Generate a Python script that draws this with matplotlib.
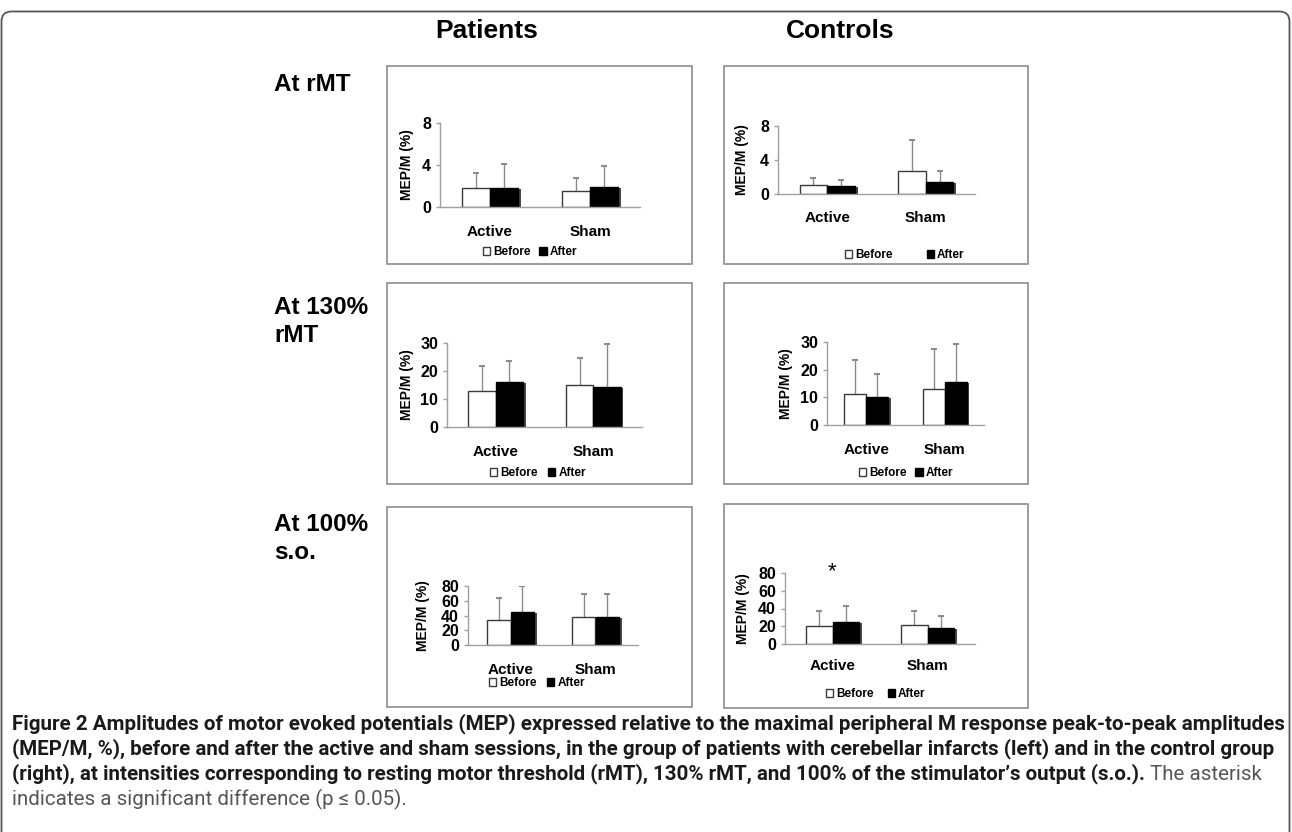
import numpy as np
import matplotlib
matplotlib.use('Agg')
import matplotlib.pyplot as plt
from matplotlib import font_manager
from matplotlib.patches import Rectangle, FancyBboxPatch

W, H = 1292, 832

sessions = ['Active', 'Sham']
series = ['Before', 'After']

# Patients, at rMT
pat_rmt_before = [1.8, 1.5]
pat_rmt_after = [1.8, 1.9]
pat_rmt_before_sd = [1.4, 1.3]
pat_rmt_after_sd = [2.3, 2.0]
# Controls, at rMT
con_rmt_before = [1.05, 2.7]
con_rmt_after = [0.95, 1.4]
con_rmt_before_sd = [0.85, 3.65]
con_rmt_after_sd = [0.65, 1.3]
# Patients, at 130% rMT
pat_130_before = [12.9, 15.0]
pat_130_after = [16.1, 14.3]
pat_130_before_sd = [8.9, 9.5]
pat_130_after_sd = [7.4, 15.5]
# Controls, at 130% rMT
con_130_before = [11.2, 13.0]
con_130_after = [10.1, 15.5]
con_130_before_sd = [12.2, 14.4]
con_130_after_sd = [8.3, 13.7]
# Patients, at 100% s.o.
pat_so_before = [34, 38]
pat_so_after = [44.6, 38]
pat_so_before_sd = [29.5, 31]
pat_so_after_sd = [35.4, 31]
# Controls, at 100% s.o.
con_so_before = [20, 21.3]
con_so_after = [24.7, 18]
con_so_before_sd = [17.5, 15.7]
con_so_after_sd = [18.3, 13.5]

col_titles = ['Patients', 'Controls']
row_titles = ['At rMT', 'At 130%\nrMT', 'At 100%\ns.o.']
ylabel = 'MEP/M (%)'
caption_bold = [
    "Figure 2 Amplitudes of motor evoked potentials (MEP) expressed relative to the maximal peripheral M response peak-to-peak amplitudes",
    "(MEP/M, %), before and after the active and sham sessions, in the group of patients with cerebellar infarcts (left) and in the control group",
    "(right), at intensities corresponding to resting motor threshold (rMT), 130% rMT, and 100% of the stimulator\u2019s output (s.o.).",
]
caption_plain = [" The asterisk", "indicates a significant difference (p \u2264 0.05)."]

FONT = 'Liberation Sans'
plt.rcParams['font.family'] = [FONT, 'DejaVu Sans']

names = {f.name for f in font_manager.fontManager.ttflist}
cap_font = 'Roboto' if 'Roboto' in names else 'DejaVu Sans'

fig = plt.figure(figsize=(W / 100, H / 100), dpi=100)

# outer frame of the page
frame = FancyBboxPatch((1.5, -40), W - 4, H - 10 + 40 - 1.5,
                       boxstyle='round,pad=0,rounding_size=10',
                       transform=None, fill=False, edgecolor='#555555', lw=1.3)
fig.patches.append(frame)

# panel boxes (x0, y0, x1, y1) in pixels from top-left
boxes = [(387, 66, 692, 264), (724, 66, 1028, 264),
         (387, 283, 692, 484), (724, 283, 1028, 484),
         (387, 507, 692, 707), (724, 504, 1028, 708)]
for x0, y0, x1, y1 in boxes:
    fig.patches.append(Rectangle((x0 / W, 1 - y1 / H), (x1 - x0) / W, (y1 - y0) / H,
                                 transform=fig.transFigure, fill=False,
                                 edgecolor='#8c8c8c', lw=1.2))

# column and row titles
fig.text(487 / W, 1 - 31 / H, col_titles[0], ha='center', va='center',
         fontsize=19, fontweight='bold')
fig.text(840 / W, 1 - 31 / H, col_titles[1], ha='center', va='center',
         fontsize=19, fontweight='bold')
row_y = [73, 296, 513]
for t, y in zip(row_titles, row_y):
    fig.text(274 / W, 1 - y / H, t, ha='left', va='top', fontsize=17.5,
             fontweight='bold', linespacing=1.3)


def panel(x0, x1, yzero, ytop, ymax, yticks, before, after, before_sd, after_sd,
          cat_y, leg_x, leg_y, leg_space, lab_dx):
    ax = fig.add_axes([x0 / W, 1 - yzero / H, (x1 - x0) / W, (yzero - ytop) / H])
    ax.patch.set_alpha(0)
    x = np.arange(len(sessions)) + 0.5
    w = 0.28
    # dark shadow behind the black bars
    ax.bar(x + w / 2 + 0.03, np.array(after) - ymax * 0.015, w, color='#4a4a4a',
           lw=0, zorder=1)
    b1 = ax.bar(x - w / 2, before, w, color='white', edgecolor='#3a3a3a', lw=1,
                zorder=2, label=series[0])
    b2 = ax.bar(x + w / 2, after, w, color='black', edgecolor='black', lw=1,
                zorder=2, label=series[1])
    for xs, m, sd in [(x - w / 2, before, before_sd), (x + w / 2, after, after_sd)]:
        _, caps, _ = ax.errorbar(xs, m, yerr=[np.zeros(len(m)), sd], fmt='none',
                                 ecolor='#8c8c8c', elinewidth=1, capsize=2,
                                 capthick=1.5, zorder=1.5)
        caps[0].set_visible(False)
    ax.set_xlim(0, len(sessions))
    ax.set_ylim(0, ymax)
    ax.set_yticks(yticks)
    ax.set_xticks([])
    for s in ['top', 'right']:
        ax.spines[s].set_visible(False)
    for s in ['left', 'bottom']:
        ax.spines[s].set_color('#a0a0a0')
        ax.spines[s].set_linewidth(1)
    ax.tick_params(axis='y', length=3, width=1, color='#a0a0a0', pad=3.5,
                   labelsize=11.5)
    for lbl in ax.get_yticklabels():
        lbl.set_fontweight('bold')
    ax.text(-lab_dx / (x1 - x0), 0.5, ylabel, transform=ax.transAxes, rotation=90,
            ha='center', va='center', fontsize=10, fontweight='bold')
    cat_pos = -(cat_y - yzero) / (yzero - ytop)
    for xi, s in zip(x, sessions):
        ax.text(xi, cat_pos, s, transform=ax.get_xaxis_transform(), ha='center',
                va='center', fontsize=11, fontweight='bold')
    fig.legend(handles=[b1, b2], labels=series, loc='center',
               bbox_to_anchor=(leg_x / W, 1 - leg_y / H), ncol=2, frameon=False,
               handlelength=0.6, handleheight=0.6, handletextpad=0.25,
               columnspacing=leg_space, borderpad=0,
               prop={'family': FONT, 'weight': 'bold', 'size': 8.5})
    return ax


panel(440, 640, 207, 123, 8, [0, 4, 8], pat_rmt_before, pat_rmt_after,
      pat_rmt_before_sd, pat_rmt_after_sd, 232, 530, 252, 0.75, 33)
panel(778, 975, 194, 126, 8, [0, 4, 8], con_rmt_before, con_rmt_after,
      con_rmt_before_sd, con_rmt_after_sd, 218, 905, 255, 2.9, 36)
panel(447, 642, 427, 343, 30, [0, 10, 20, 30], pat_130_before, pat_130_after,
      pat_130_before_sd, pat_130_after_sd, 452, 538, 473, 0.9, 40)
panel(827, 984, 425, 342, 30, [0, 10, 20, 30], con_130_before, con_130_after,
      con_130_before_sd, con_130_after_sd, 450, 906, 473, 0.75, 41)
panel(468, 638, 645, 586, 80, [0, 20, 40, 60, 80], pat_so_before, pat_so_after,
      pat_so_before_sd, pat_so_after_sd, 670, 537, 683, 0.9, 45)
ax6 = panel(785, 975, 644, 573, 80, [0, 20, 40, 60, 80], con_so_before, con_so_after,
            con_so_before_sd, con_so_after_sd, 666, 876, 694, 1.2, 42)
ax6.text(0.5, 82, '*', ha='center', va='center', fontsize=16, clip_on=False)

# caption: each line is sized to span the same width as in the source
cap_y = [724, 749, 774, 799]
cap_right = [1283, 1272, 1262]
cap_kw = dict(family=[cap_font, 'DejaVu Sans'], ha='left', va='center')
renderer = fig.canvas.get_renderer()
sizes = []
for i, line in enumerate(caption_bold):
    t = fig.text(12 / W, 1 - cap_y[i] / H, line, fontsize=12, fontweight='bold',
                 color='#1a1a1a', **cap_kw)
    width = t.get_window_extent(renderer=renderer).width
    if i == 2:
        p = fig.text(0, 0, caption_plain[0], fontsize=12, **cap_kw)
        width += p.get_window_extent(renderer=renderer).width
        p.remove()
    size = 12 * (cap_right[i] - 12) / width
    t.set_fontsize(size)
    sizes.append(size)
    if i == 2:
        bb = t.get_window_extent(renderer=renderer)
        fig.text(bb.x1 / W, 1 - cap_y[2] / H, caption_plain[0], fontsize=size,
                 color='#555555', **cap_kw)
fig.text(12 / W, 1 - cap_y[3] / H, caption_plain[1], fontsize=np.mean(sizes),
         color='#555555', **cap_kw)

fig.savefig('out.png', dpi=100)
